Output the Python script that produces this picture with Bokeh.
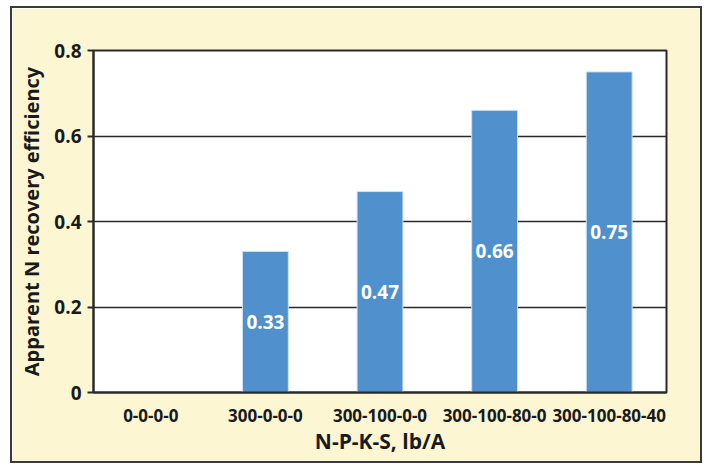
from bokeh.plotting import figure
from bokeh.models import ColumnDataSource, Range1d, FixedTicker
from bokeh.core.properties import value
from bokeh.embed import file_html
from bokeh.resources import INLINE

categories = ["0-0-0-0", "300-0-0-0", "300-100-0-0", "300-100-80-0", "300-100-80-40"]
efficiency = [0.0, 0.33, 0.47, 0.66, 0.75]
y_ticks = [0, 0.2, 0.4, 0.6, 0.8]
y_tick_labels = ["0", "0.2", "0.4", "0.6", "0.8"]

FONT = "Open Sans"
CREAM = "#FCF6D3"
BLUE = "#5090CC"
DARK = "#2a2a2a"
INK = "#1a1a1a"

src = ColumnDataSource(dict(
    cat=categories,
    val=efficiency,
    mid=[v / 2 for v in efficiency],
    lab=[f"{v:.2f}" if v > 0 else "" for v in efficiency],
))

p = figure(
    x_range=categories, y_range=Range1d(0, 0.8),
    width=692, height=457,
    output_backend="svg", toolbar_location=None,
    min_border_left=81, min_border_right=38, min_border_top=42, min_border_bottom=73,
    background_fill_color="white", border_fill_color=CREAM,
)
p.styles = {"border": "2px solid #3a3a3a", "margin-left": "10px", "margin-top": "6px"}

p.vbar(x="cat", top="val", width=0.4, source=src,
       fill_color=BLUE, line_color="#cfe0f0", line_width=1)
p.text(x="cat", y="mid", text="lab", source=src,
       text_color="white", text_font=value(FONT), text_font_size="19px",
       text_font_style="bold", text_align="center", text_baseline="middle")

p.outline_line_color = DARK
p.outline_line_width = 2
p.outline_line_alpha = 1

p.xgrid.grid_line_color = None
p.ygrid.ticker = FixedTicker(ticks=y_ticks)
p.ygrid.grid_line_color = DARK
p.ygrid.grid_line_width = 1.5
p.ygrid.level = "underlay"

yax = p.yaxis[0]
yax.ticker = FixedTicker(ticks=y_ticks)
yax.major_label_overrides = {t: s for t, s in zip(y_ticks, y_tick_labels)}
yax.axis_line_color = DARK
yax.axis_line_width = 2
yax.major_tick_line_color = DARK
yax.major_tick_line_width = 2
yax.major_tick_out = 6
yax.major_tick_in = 0
yax.minor_tick_line_color = None
yax.major_label_standoff = 6
yax.major_label_text_font = FONT
yax.major_label_text_font_size = "19px"
yax.major_label_text_font_style = "bold"
yax.major_label_text_color = INK
yax.axis_label = "Apparent N recovery efficiency"
yax.axis_label_text_font = FONT
yax.axis_label_text_font_size = "20px"
yax.axis_label_text_font_style = "bold"
yax.axis_label_text_color = INK
yax.axis_label_standoff = 6

xax = p.xaxis[0]
xax.axis_line_color = DARK
xax.axis_line_width = 2
xax.major_tick_line_color = None
xax.minor_tick_line_color = None
xax.major_label_standoff = 10
xax.major_label_text_font = FONT
xax.major_label_text_font_size = "17px"
xax.major_label_text_font_style = "bold"
xax.major_label_text_color = INK
xax.axis_label = "N-P-K-S, lb/A"
xax.axis_label_text_font = FONT
xax.axis_label_text_font_size = "21px"
xax.axis_label_text_font_style = "bold"
xax.axis_label_text_color = INK
xax.axis_label_standoff = 2

open("out.html", "w").write(file_html(p, INLINE))
